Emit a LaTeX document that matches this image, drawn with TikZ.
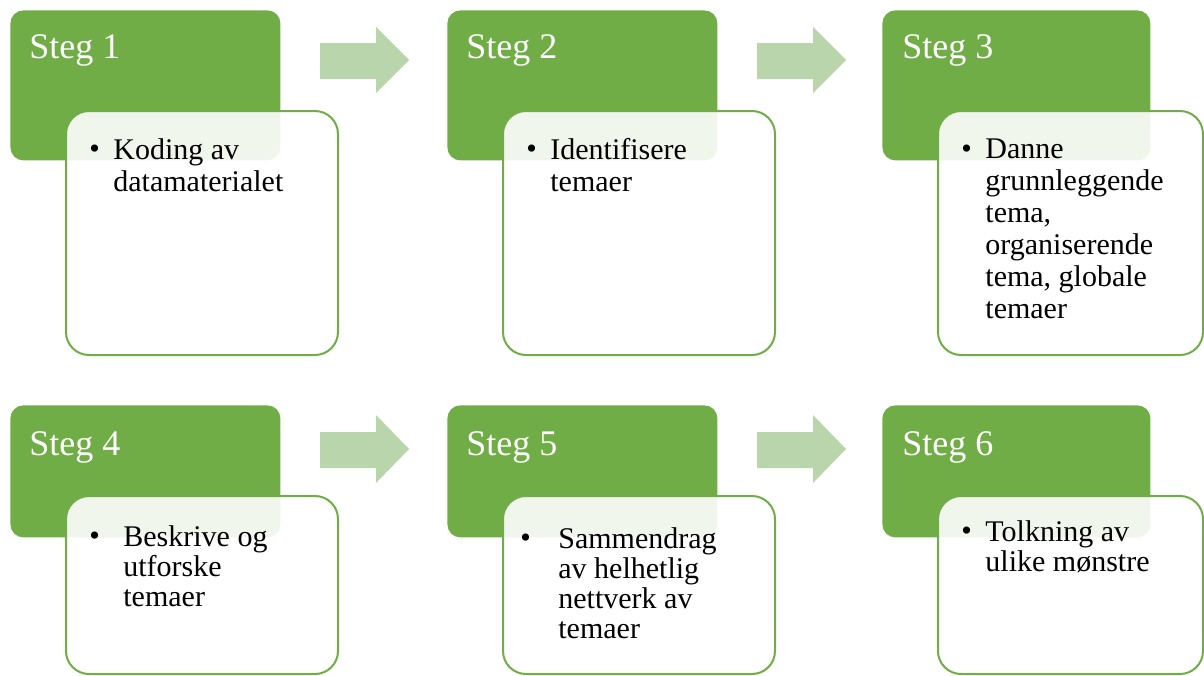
\documentclass[tikz,border=0pt]{standalone}
\usepackage{fontspec}
\setmainfont{Liberation Serif}
\definecolor{stegroenn}{HTML}{70AD47}
\definecolor{pilgroenn}{HTML}{B9D5AB}
\tikzset{
  stegboks/.style={fill=stegroenn, rounded corners=6.5pt, inner sep=0pt, anchor=north west, minimum width=135pt},
  innboks/.style={draw=stegroenn, line width=1pt, fill=white, fill opacity=0.9, rounded corners=11.5pt, inner sep=0pt, anchor=north west, minimum width=136pt},
  tittel/.style={text=white, font=\fontsize{18}{21}\selectfont, inner sep=0pt, anchor=base west},
  punkt/.style={font=\fontsize{15}{16}\selectfont, inner sep=0pt, anchor=north west, align=left},
  punkt2/.style={punkt, font=\fontsize{15}{15}\selectfont},
  pil/.style={fill=pilgroenn}
}
\begin{document}
\begin{tikzpicture}[x=0.5pt, y=-0.5pt]
  \useasboundingbox (0,0) rectangle (1204,675);
  \clip (0,0) rectangle (1204,675);

  % rad 1
  \node[stegboks, minimum height=75pt] (g1) at (10,10) {};
  \node[stegboks, minimum height=75pt] (g2) at (447,10) {};
  \node[stegboks, minimum height=75pt, minimum width=134pt] (g3) at (882,10) {};

  \node[tittel] (t1) at (29,58) {Steg 1};
  \node[tittel] (t2) at (466,58) {Steg 2};
  \node[tittel] (t3) at (902,58) {Steg 3};

  \node[innboks, minimum height=122pt] (b1) at (65,110) {};
  \node[innboks, minimum height=122pt] (b2) at (502,110) {};
  \node[innboks, minimum height=122pt, minimum width=132.5pt] (b3) at (937,110) {};

  \node[punkt, anchor=base west] (p1) at (89,158) {\textbullet};
  \node[punkt] (x1) at (113,138) {Koding av\\datamaterialet};
  \node[punkt, anchor=base west] (p2) at (526,158) {\textbullet};
  \node[punkt] (x2) at (550,138) {Identifisere\\temaer};
  \node[punkt, anchor=base west] (p3) at (961,158) {\textbullet};
  \node[punkt] (x3) at (985,138) {Danne\\grunnleggende\\tema,\\organiserende\\tema, globale\\temaer};

  \fill[pil] (320,43) -- (376,43) -- (376,27) -- (409,60) -- (376,93) -- (376,79) -- (320,79) -- cycle;
  \fill[pil] (757,43) -- (813,43) -- (813,27) -- (846,60) -- (813,93) -- (813,79) -- (757,79) -- cycle;

  % rad 2
  \node[stegboks, minimum height=66pt] (g4) at (10,405) {};
  \node[stegboks, minimum height=66pt] (g5) at (447,405) {};
  \node[stegboks, minimum height=66pt, minimum width=134pt] (g6) at (882,405) {};

  \node[tittel] (t4) at (29,455) {Steg 4};
  \node[tittel] (t5) at (466,455) {Steg 5};
  \node[tittel] (t6) at (902,455) {Steg 6};

  \node[innboks, minimum height=89pt] (b4) at (65,495) {};
  \node[innboks, minimum height=89pt] (b5) at (502,495) {};
  \node[innboks, minimum height=89pt, minimum width=132.5pt] (b6) at (937,495) {};

  \node[punkt2, anchor=base west] (p4) at (89,545) {\textbullet};
  \node[punkt2] (x4) at (123,525) {Beskrive og\\utforske\\temaer};
  \node[punkt2, anchor=base west] (p5) at (520,547) {\textbullet};
  \node[punkt2] (x5) at (558,527) {Sammendrag\\av helhetlig\\nettverk av\\temaer};
  \node[punkt2, anchor=base west] (p6) at (961,540) {\textbullet};
  \node[punkt2] (x6) at (985,520) {Tolkning av\\ulike mønstre};

  \fill[pil] (320,432) -- (376,432) -- (376,415) -- (409,449) -- (376,483) -- (376,468) -- (320,468) -- cycle;
  \fill[pil] (757,432) -- (813,432) -- (813,415) -- (846,449) -- (813,483) -- (813,468) -- (757,468) -- cycle;
\end{tikzpicture}
\end{document}
